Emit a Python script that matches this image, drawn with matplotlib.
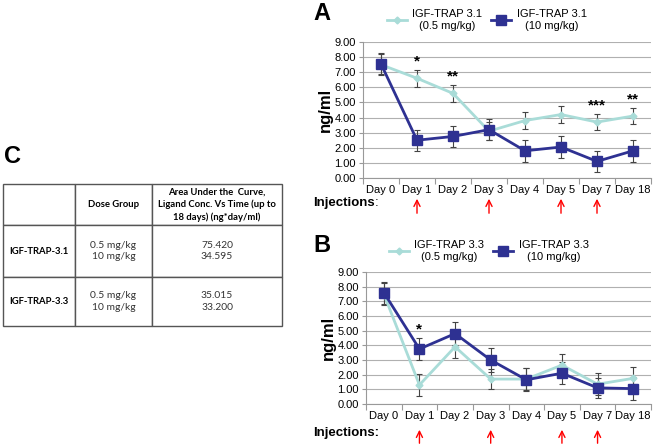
import matplotlib
matplotlib.use("Agg")
import matplotlib.pyplot as plt
import numpy as np

plt.rcParams['font.family'] = ['Liberation Sans', 'DejaVu Sans']

days = ["Day 0", "Day 1", "Day 2", "Day 3", "Day 4", "Day 5", "Day 7", "Day 18"]
injection_days = ["Day 1", "Day 3", "Day 5", "Day 7"]

# panel A: IGF-TRAP 3.1
a_low = [7.50, 6.60, 5.60, 3.10, 3.80, 4.20, 3.70, 4.10]
a_low_err = [0.70, 0.55, 0.55, 0.60, 0.55, 0.55, 0.55, 0.55]
a_high = [7.55, 2.50, 2.75, 3.20, 1.80, 2.05, 1.10, 1.80]
a_high_err = [0.70, 0.70, 0.70, 0.70, 0.72, 0.72, 0.70, 0.72]
a_stars = {"Day 1": "*", "Day 2": "**", "Day 7": "***", "Day 18": "**"}

# panel B: IGF-TRAP 3.3
b_low = [7.50, 1.30, 3.90, 1.70, 1.70, 2.65, 1.35, 1.75]
b_low_err = [0.75, 0.75, 0.75, 0.70, 0.75, 0.75, 0.75, 0.75]
b_high = [7.60, 3.75, 4.80, 3.00, 1.65, 2.10, 1.10, 1.05]
b_high_err = [0.75, 0.78, 0.78, 0.80, 0.78, 0.75, 0.70, 0.78]
b_stars = {"Day 1": "*"}

# panel C table
tbl_header = ["", "Dose Group",
              "Area Under the  Curve,\nLigand Conc. Vs Time (up to\n18 days) (ng*day/ml)"]
tbl_rows = [["IGF-TRAP-3.1", "0.5 mg/kg\n10 mg/kg", "75.420\n34.595"],
            ["IGF-TRAP-3.3", "0.5 mg/kg\n10 mg/kg", "35.015\n33.200"]]

light = "#a9dcd8"
dark = "#2e3192"
W, H = 656, 445

fig = plt.figure(figsize=(W / 100, H / 100), dpi=100)


def px_axes(l, r, t, b):
    return fig.add_axes([l / W, (H - b) / H, (r - l) / W, (b - t) / H])


def panel(ax, low, low_err, high, high_err, stars, name, arrow_px):
    x = np.arange(len(days))
    ax.errorbar(x, low, yerr=low_err, fmt="none", ecolor="#444444",
                elinewidth=0.8, capsize=2, capthick=0.8, zorder=2)
    ax.errorbar(x, high, yerr=high_err, fmt="none", ecolor="#444444",
                elinewidth=0.8, capsize=2, capthick=0.8, zorder=2)
    ax.plot(x, low, color=light, lw=2, marker="D", ms=3.5, zorder=3,
            label=name + "\n(0.5 mg/kg)")
    ax.plot(x, high, color=dark, lw=2, marker="s", ms=6.5, zorder=4,
            label=name + "\n(10 mg/kg)")
    for d, s in stars.items():
        i = days.index(d)
        top = max(low[i] + low_err[i], high[i] + high_err[i])
        ax.text(i, top + 0.1, s, ha="center", va="bottom", fontsize=11, fontweight="bold")
    ax.set_xlim(-0.5, len(days) - 0.5)
    ax.set_ylim(0, 9)
    ax.set_yticks(np.arange(0, 9.01, 1))
    ax.set_yticklabels([f"{v:.2f}" for v in np.arange(0, 9.01, 1)], fontsize=8)
    ax.yaxis.grid(True, color="#b0b0b0", lw=0.8)
    ax.set_axisbelow(True)
    ax.set_xticks(np.arange(-0.5, len(days), 1))
    ax.set_xticklabels([])
    ax.set_xticks(np.arange(len(days)), minor=True)
    ax.set_xticklabels(days, minor=True, fontsize=8)
    ax.tick_params(axis="x", which="minor", length=0, pad=5)
    ax.tick_params(axis="x", which="major", length=4, color="#999999")
    ax.tick_params(axis="y", length=3, color="#999999", pad=2)
    for s in ["top", "right"]:
        ax.spines[s].set_visible(False)
    for s in ["left", "bottom"]:
        ax.spines[s].set_color("#999999")
    ax.set_ylabel("ng/ml", fontsize=12, fontweight="bold", labelpad=1)
    leg = ax.legend(loc="center", bbox_to_anchor=(0.43, 1.16), ncol=2, frameon=False,
                    fontsize=8, handlelength=1.8, columnspacing=0.8, handletextpad=0.5)
    for t in leg.get_texts():
        t.set_multialignment("center")
    # injection arrows (pixel rows from the top of the figure)
    y0, y1 = arrow_px
    for d in injection_days:
        i = days.index(d)
        xf = ax.transData.transform((i, 0))[0] / W
        fig.add_artist(matplotlib.patches.FancyArrowPatch(
            (xf, 1 - y0 / H), (xf, 1 - y1 / H), transform=fig.transFigure,
            arrowstyle="->", mutation_scale=11, color="red", lw=1))


axA = px_axes(363, 651, 42, 178)
axB = px_axes(366, 651, 272, 404)
fig.canvas.draw()
panel(axA, a_low, a_low_err, a_high, a_high_err, a_stars, "IGF-TRAP 3.1", (216, 196))
panel(axB, b_low, b_low_err, b_high, b_high_err, b_stars, "IGF-TRAP 3.3", (446, 427))

fig.text(313 / W, 1 - 203 / H, "Injections", fontsize=9.5, fontweight="bold", va="center")
fig.text(375 / W, 1 - 203 / H, ":", fontsize=9.5, va="center")
fig.text(313 / W, 1 - 433 / H, "Injections:", fontsize=9.5, fontweight="bold", va="center")

fig.text(313 / W, 1 - 14 / H, "A", fontsize=17, fontweight="bold", va="center")
fig.text(313 / W, 1 - 245 / H, "B", fontsize=17, fontweight="bold", va="center")
fig.text(4 / W, 1 - 157 / H, "C", fontsize=17, fontweight="bold", va="center")

# table
axC = px_axes(3, 282, 184, 326)
axC.axis("off")
cells = [tbl_header] + tbl_rows
tb = axC.table(cellText=cells, cellLoc="center", bbox=[0, 0, 1, 1],
               colWidths=[72, 77, 130])
tb.auto_set_font_size(False)
row_h = [41, 52, 49]
for (r, c), cell in tb.get_celld().items():
    cell.set_height(row_h[r])
    cell.set_edgecolor("#555555")
    cell.set_linewidth(1)
    txt = cell.get_text()
    txt.set_fontfamily(["Lato", "DejaVu Sans"])
    txt.set_linespacing(1.4)
    if r == 0 or c == 0:
        txt.set_fontweight("bold")
        txt.set_fontsize(6.8)
    else:
        txt.set_fontsize(7.4)
        txt.set_color("#333333")

fig.savefig("out.png", dpi=100)
